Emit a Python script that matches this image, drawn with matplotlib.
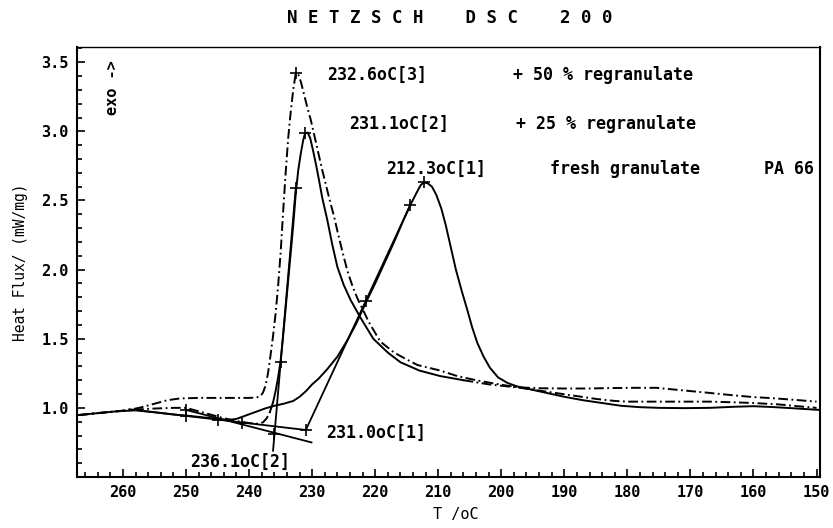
"""NETZSCH DSC 200 cooling curves of PA 66 with regranulate content."""

import matplotlib

matplotlib.use("Agg")
import matplotlib.pyplot as plt
from matplotlib.ticker import FixedLocator, MultipleLocator

# fresh granulate [1]
TEMP_1 = [267, 264, 261, 258, 255, 252, 250, 247, 245, 243.4, 242, 240.5, 239, 237.5,
          236, 234.5, 233, 232, 231, 230, 229, 227.6, 226, 224.4, 223, 221.5, 220,
          218.5, 217, 215.5, 214.4, 213.5, 212.8, 212.3, 211.7, 211, 210.3, 209.5,
          208.8, 208, 207.2, 206.3, 205.4, 204.6, 203.8, 202.8, 201.8, 200.5, 199,
          197.5, 196, 193, 190, 187, 184, 181, 178, 175, 171, 167, 163, 160, 157,
          153, 149.5]
FLUX_1 = [0.948, 0.962, 0.975, 0.982, 0.968, 0.952, 0.944, 0.93, 0.92, 0.912, 0.92,
          0.945, 0.97, 0.995, 1.015, 1.03, 1.05, 1.08, 1.12, 1.17, 1.21, 1.28, 1.37,
          1.49, 1.61, 1.76, 1.90, 2.05, 2.20, 2.36, 2.47, 2.55, 2.61, 2.63, 2.625,
          2.60, 2.54, 2.44, 2.32, 2.16, 2.0, 1.85, 1.71, 1.58, 1.47, 1.37, 1.29, 1.22,
          1.18, 1.155, 1.14, 1.11, 1.08, 1.055, 1.035, 1.015, 1.005, 1.0, 0.998, 1.0,
          1.008, 1.012, 1.006, 0.995, 0.985]

# + 25 % regranulate [2]
TEMP_2 = [267, 264, 261, 258, 255, 252, 250, 248, 246, 244, 242, 240, 238.8, 237.8,
          237.2, 236.7, 236.2, 235.8, 235.4, 235.0, 234.6, 234.2, 233.8, 233.4, 233.0,
          232.6, 232.2, 231.8, 231.4, 231.1, 230.7, 230.3, 229.8, 229.3, 228.8, 228.4,
          227.6, 226.8, 226.0, 225, 223.9, 222.3, 220.3, 218, 216, 213, 209.7, 206,
          202, 199, 197, 194, 191, 188, 185, 182, 180, 176, 172, 167, 163, 160, 156,
          153, 150]
FLUX_2 = [0.948, 0.962, 0.975, 0.988, 0.995, 1.0, 1.0, 0.975, 0.95, 0.925, 0.905,
          0.89, 0.885, 0.895, 0.925, 0.97, 1.04, 1.12, 1.22, 1.34, 1.52, 1.72, 1.92,
          2.12, 2.32, 2.55, 2.72, 2.84, 2.94, 2.99, 2.99, 2.95, 2.85, 2.74, 2.62, 2.52,
          2.36, 2.18, 2.02, 1.89, 1.78, 1.65, 1.50, 1.40, 1.33, 1.27, 1.23, 1.20, 1.17,
          1.155, 1.145, 1.125, 1.105, 1.085, 1.065, 1.05, 1.045, 1.045, 1.045, 1.045,
          1.04, 1.035, 1.025, 1.012, 1.0]

# + 50 % regranulate [3]
TEMP_3 = [267, 264, 261, 259, 257, 255, 253, 251, 248, 245, 242, 240, 238.8, 238.2,
          237.8, 237.4, 237.0, 236.6, 236.2, 235.8, 235.4, 235.0, 234.6, 234.2, 233.8,
          233.4, 233.0, 232.6, 232.2, 231.8, 231.3, 230.8, 230.2, 229.6, 229.0, 228.4,
          227.8, 227.2, 226.5, 226.0, 225.2, 224.4, 223.6, 222.8, 221, 219.2, 217, 215,
          213.3, 211.5, 209.7, 207, 204, 201, 199, 197, 194, 190, 186, 183, 179, 175.4,
          172, 167.4, 163, 160, 157, 153.5, 150]
FLUX_3 = [0.948, 0.962, 0.975, 0.985, 1.005, 1.03, 1.055, 1.068, 1.072, 1.072, 1.072,
          1.072, 1.075, 1.085, 1.11, 1.16, 1.25, 1.38, 1.52, 1.68, 1.88, 2.12, 2.42,
          2.7, 2.95, 3.14, 3.3, 3.42, 3.41, 3.36, 3.27, 3.18, 3.08, 2.96, 2.84, 2.72,
          2.61, 2.5, 2.38, 2.28, 2.13, 1.99, 1.88, 1.79, 1.62, 1.48, 1.40, 1.35, 1.31,
          1.29, 1.27, 1.23, 1.2, 1.175, 1.16, 1.148, 1.142, 1.14, 1.14, 1.143, 1.145,
          1.145, 1.13, 1.11, 1.09, 1.078, 1.07, 1.058, 1.045]

# onset construction lines (start, end)
BASE_1_T, BASE_1_Y = [259, 231.0], [0.99, 0.84]
STEEP_1_T, STEEP_1_Y = [231.0, 214.4], [0.84, 2.47]
BASE_2_T, BASE_2_Y = [250, 230.1], [0.985, 0.75]
STEEP_2_T, STEEP_2_Y = [236.2, 232.6], [0.69, 2.59]

PLUS_T = [250, 250, 245, 241.2, 231.0, 236.1, 235.0, 232.6, 231.1, 232.6, 221.5, 214.4, 212.3]
PLUS_Y = [0.985, 0.94, 0.915, 0.893, 0.84, 0.81, 1.33, 2.59, 2.99, 3.42, 1.77, 2.47, 2.63]

LABELS = [
    (227.7, 3.41, "232.6oC[3]"),
    (198.2, 3.41, "+ 50 % regranulate"),
    (224.2, 3.05, "231.1oC[2]"),
    (197.6, 3.05, "+ 25 % regranulate"),
    (218.2, 2.73, "212.3oC[1]"),
    (192.3, 2.73, "fresh granulate"),
    (158.3, 2.73, "PA 66"),
    (227.8, 0.82, "231.0oC[1]"),
    (249.4, 0.61, "236.1oC[2]"),
]

X_TICKS = [260, 250, 240, 230, 220, 210, 200, 190, 180, 170, 160, 150]
Y_TICKS = [1.0, 1.5, 2.0, 2.5, 3.0, 3.5]

FONT = "DejaVu Sans Mono"
DASH_DOT = (0, (7, 2.5, 1.3, 2.5))


def main() -> None:
    plt.rcParams["font.family"] = FONT
    plt.rcParams["font.weight"] = "bold"
    plt.rcParams["lines.scale_dashes"] = False

    fig = plt.figure(figsize=(8.33, 5.28), dpi=100)
    ax = fig.add_axes([0.0924, 0.0966, 0.8916, 0.8144])
    lw = 1.4

    ax.plot(TEMP_1, FLUX_1, color="black", lw=lw)

    # +25 % curve: plotter dashes only visible on the flat parts
    left = [i for i, t in enumerate(TEMP_2) if t >= 236.7]
    mid = [i for i, t in enumerate(TEMP_2) if 206 <= t <= 236.7]
    right = [i for i, t in enumerate(TEMP_2) if t <= 206]
    for idx, style in ((left, DASH_DOT), (mid, "-"), (right, DASH_DOT)):
        ax.plot([TEMP_2[i] for i in idx], [FLUX_2[i] for i in idx],
                color="black", lw=lw, linestyle=style)

    ax.plot(TEMP_3, FLUX_3, color="black", lw=lw, linestyle=DASH_DOT)

    for xs, ys in ((BASE_1_T, BASE_1_Y), (STEEP_1_T, STEEP_1_Y),
                   (BASE_2_T, BASE_2_Y), (STEEP_2_T, STEEP_2_Y)):
        ax.plot(xs, ys, color="black", lw=1.3)

    ax.plot(PLUS_T, PLUS_Y, linestyle="none", marker="+", color="black",
            markersize=8, markeredgewidth=1.2)

    for t, y, text in LABELS:
        ax.text(t, y, text, ha="left", va="center", fontsize=12)

    ax.text(0.048, 0.905, "exo ->", transform=ax.transAxes, rotation=90,
            ha="center", va="center", fontsize=11)

    ax.set_xlim(267.3, 149.5)
    ax.set_ylim(0.5, 3.61)
    ax.xaxis.set_major_locator(FixedLocator(X_TICKS))
    ax.xaxis.set_minor_locator(MultipleLocator(2))
    ax.yaxis.set_major_locator(FixedLocator(Y_TICKS))
    ax.yaxis.set_minor_locator(MultipleLocator(0.1))
    ax.xaxis.set_major_formatter(plt.FuncFormatter(lambda v, _: f"{v:.0f}"))
    ax.yaxis.set_major_formatter(plt.FuncFormatter(lambda v, _: f"{v:.1f}"))
    ax.tick_params(which="both", direction="in", top=False, right=False,
                   labelsize=11, width=1.2)
    ax.tick_params(which="major", length=6, pad=6)
    ax.tick_params(which="minor", length=3.5)

    for side in ("left", "bottom", "right"):
        ax.spines[side].set_linewidth(1.5)
    ax.spines["top"].set_linewidth(1.0)

    ax.set_xlabel("T /oC", fontsize=11)
    ax.xaxis.set_label_coords(0.51, -0.07)
    ax.set_ylabel("Heat Flux/ (mW/mg)", fontsize=10.5)
    ax.yaxis.set_label_coords(-0.066, 0.5)

    fig.text(450 / 833, 1 - 18 / 528, "N E T Z S C H    D S C    2 0 0",
             ha="center", va="center", fontsize=12.5)

    fig.savefig("out.png", dpi=100)
    plt.close(fig)


if __name__ == "__main__":
    main()
